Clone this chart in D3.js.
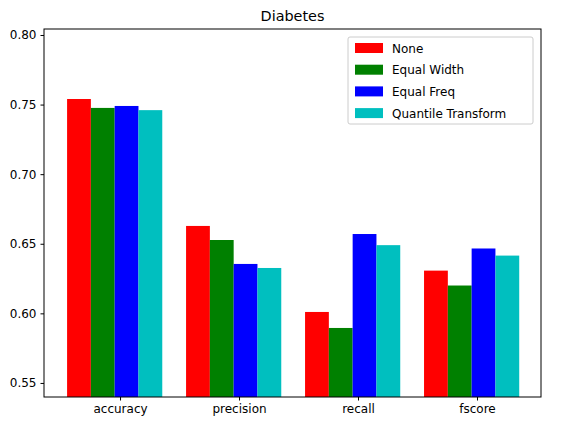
<!DOCTYPE html>
<html><head><meta charset="utf-8">
<script src="https://cdn.jsdelivr.net/npm/d3@7"></script>
<style>body{margin:0;background:#fff}text{font-family:"DejaVu Sans",sans-serif}</style>
</head><body>
<div id="chart"></div>
<script>
// Chart data
const categories = ["accuracy", "precision", "recall", "fscore"];
const seriesNames = ["None", "Equal Width", "Equal Freq", "Quantile Transform"];
const seriesColors = ["#ff0000", "#008000", "#0000ff", "#00bfbf"];
const noneValues = [0.754, 0.6628, 0.601, 0.6307];
const equalWidthValues = [0.7476, 0.6527, 0.5895, 0.6200];
const equalFreqValues = [0.749, 0.6355, 0.657, 0.6466];
const quantileValues = [0.746, 0.6326, 0.649, 0.6415];
const yTicks = [0.55, 0.60, 0.65, 0.70, 0.75, 0.80];

const series = [noneValues, equalWidthValues, equalFreqValues, quantileValues];

const W = 569, H = 437;
const plotLeft = 44, plotRight = 541, plotTop = 29, plotBottom = 397;

const svg = d3.select("#chart").append("svg").attr("width", W).attr("height", H);

const x = d3.scaleLinear().domain([-0.639, 3.538]).range([plotLeft, plotRight]);
const y = d3.scaleLinear().domain([0.5399, 0.8043]).range([plotBottom, plotTop]);
const step = x(1) - x(0);

// Bars
series.forEach((vals, k) => {
    svg.append("g").selectAll("rect").data(vals).join("rect")
        .attr("x", (d, i) => x(i + k * 0.2 - 0.445))
        .attr("width", 0.2 * step)
        .attr("y", d => y(d))
        .attr("height", d => plotBottom - y(d))
        .attr("fill", seriesColors[k]);
});

// Axes
const yAxis = svg.append("g").attr("transform", `translate(${plotLeft},0)`)
    .call(d3.axisLeft(y).tickValues(yTicks).tickFormat(d3.format(".2f")).tickSizeOuter(0).tickSize(3.5).tickPadding(4));
const xAxis = svg.append("g").attr("transform", `translate(0,${plotBottom})`)
    .call(d3.axisBottom(x).tickValues(d3.range(categories.length)).tickFormat(i => categories[i]).tickSizeOuter(0).tickSize(3.5).tickPadding(4));
[yAxis, xAxis].forEach(a => {
    a.selectAll("text").attr("font-size", 12).attr("fill", "#000").style("font-family", "DejaVu Sans");
    a.select(".domain").remove();
});

// Frame
svg.append("rect").attr("x", plotLeft).attr("y", plotTop).attr("width", plotRight - plotLeft).attr("height", plotBottom - plotTop)
    .attr("fill", "none").attr("stroke", "#000").attr("stroke-width", 1);

// Title
svg.append("text").attr("x", (plotLeft + plotRight) / 2).attr("y", 21).attr("text-anchor", "middle")
    .attr("font-size", 14.4).text("Diabetes");

// Legend
const lg = svg.append("g").attr("transform", "translate(348,37)");
lg.append("rect").attr("width", 185).attr("height", 87).attr("rx", 2)
    .attr("fill", "#fff").attr("fill-opacity", 0.8).attr("stroke", "#ccc");
seriesNames.forEach((name, k) => {
    const yy = 11 + k * 21.7;
    lg.append("rect").attr("x", 7).attr("y", yy - 5).attr("width", 28).attr("height", 10).attr("fill", seriesColors[k]);
    lg.append("text").attr("x", 44).attr("y", yy + 4.5).attr("font-size", 12).text(name);
});
</script>
</body></html>
